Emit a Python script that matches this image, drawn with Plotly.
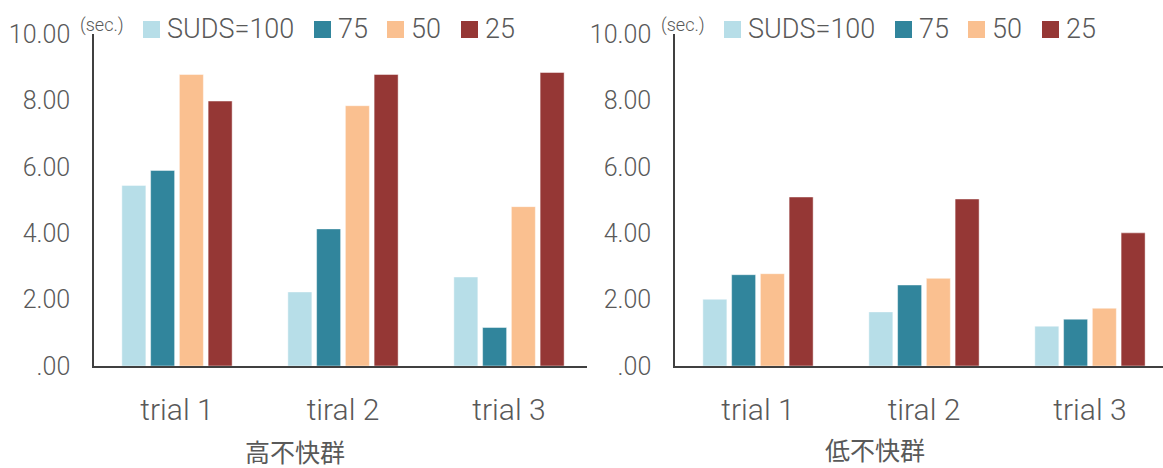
import plotly.graph_objects as go

categories = ["trial 1", "tiral 2", "trial 3"]
series_names = ["SUDS=100", "75", "50", "25"]
series_colors = ["#B7DEE8", "#31859C", "#FAC090", "#953735"]

high_100 = [5.44, 2.23, 2.68]
high_75 = [5.89, 4.13, 1.16]
high_50 = [8.78, 7.84, 4.80]
high_25 = [7.98, 8.78, 8.84]

low_100 = [2.01, 1.63, 1.20]
low_75 = [2.75, 2.44, 1.41]
low_50 = [2.78, 2.64, 1.74]
low_25 = [5.09, 5.03, 4.01]

y_tickvals = [0, 2, 4, 6, 8, 10]
y_ticktext = [".00", "2.00", "4.00", "6.00", "8.00", "10.00"]

panel_titles = ["高不快群", "低不快群"]
unit_label = "(sec.)"

W, H = 1163, 468
GRAY = "#595959"
AXIS = "#404040"
NUM_FONT = "Roboto, DejaVu Sans Condensed, sans-serif"
NUM_WEIGHT = 300
CJK_FONT = "Noto Sans CJK JP, Noto Sans CJK SC, sans-serif"

fig = go.Figure()

high = [high_100, high_75, high_50, high_25]
low = [low_100, low_75, low_50, low_25]

for vals, name, col in zip(high, series_names, series_colors):
    fig.add_trace(go.Bar(x=categories, y=vals, name=name, marker_color=col,
                         marker_line=dict(color="rgba(255,255,255,0.45)", width=1),
                         xaxis="x", yaxis="y", showlegend=False))
for vals, name, col in zip(low, series_names, series_colors):
    fig.add_trace(go.Bar(x=categories, y=vals, name=name, marker_color=col,
                         marker_line=dict(color="rgba(255,255,255,0.45)", width=1),
                         xaxis="x2", yaxis="y2", showlegend=False))

y_dom = [102 / H, (H - 34) / H]
left_dom = [94 / W, 587 / W]
right_dom = [675 / W, 1.0]

xaxis_common = dict(showline=True, linecolor=AXIS, linewidth=1.5, showgrid=False,
                    ticks="", tickfont=dict(family=NUM_FONT, size=30, color=GRAY, weight=NUM_WEIGHT),
                    ticklabelstandoff=16, zeroline=False, fixedrange=True, automargin=False)
yaxis_common = dict(showline=True, linecolor=AXIS, linewidth=1.5, showgrid=False,
                    ticks="", range=[0, 10], tickvals=y_tickvals, ticktext=y_ticktext,
                    tickfont=dict(family=NUM_FONT, size=25, color=GRAY, weight=NUM_WEIGHT),
                    ticklabelstandoff=17, zeroline=False, domain=y_dom, fixedrange=True,
                    automargin=False)

fig.update_layout(
    width=W, height=H,
    margin=dict(l=0, r=0, t=0, b=0, autoexpand=False),
    paper_bgcolor="white", plot_bgcolor="white",
    barmode="group", bargap=0.307, bargroupgap=0.165,
    xaxis=dict(domain=left_dom, range=[-0.5, 2.47], anchor="y", **xaxis_common),
    yaxis=dict(anchor="x", **yaxis_common),
    xaxis2=dict(domain=right_dom, range=[-0.5, 2.44], anchor="y2", **xaxis_common),
    yaxis2=dict(anchor="x2", **yaxis_common),
)

annotations = []
shapes = []
# per-panel: axis x pixel, title center pixel, title y pixel
panels = [(94, 295, 451), (675, 875, 449)]
sq_x = [143, 314, 387, 461]
for ax_px, title_cx, title_cy in panels:
    shift = ax_px - 94
    annotations.append(dict(x=(78 + shift) / W, y=(H - 25) / H, xref="paper", yref="paper",
                            text=unit_label, showarrow=False, xanchor="left", yanchor="middle",
                            font=dict(family=NUM_FONT, size=18, color=GRAY, weight=NUM_WEIGHT)))
    for i, (name, col) in enumerate(zip(series_names, series_colors)):
        x0 = sq_x[i] + shift
        shapes.append(dict(type="rect", xref="paper", yref="paper",
                           x0=x0 / W, x1=(x0 + 17) / W, y0=(H - 38) / H, y1=(H - 21) / H,
                           fillcolor=col, line=dict(width=0)))
        annotations.append(dict(x=(x0 + 22) / W, y=(H - 29) / H, xref="paper", yref="paper",
                                text=name, showarrow=False, xanchor="left", yanchor="middle",
                                font=dict(family=NUM_FONT, size=27, color=GRAY, weight=NUM_WEIGHT)))
for (ax_px, title_cx, title_cy), t in zip(panels, panel_titles):
    annotations.append(dict(x=title_cx / W, y=(H - title_cy) / H, xref="paper", yref="paper",
                            text=t, showarrow=False, xanchor="center", yanchor="middle",
                            font=dict(family=CJK_FONT, size=25, color=GRAY)))

fig.update_layout(annotations=annotations, shapes=shapes)

fig.write_html("out.html")
